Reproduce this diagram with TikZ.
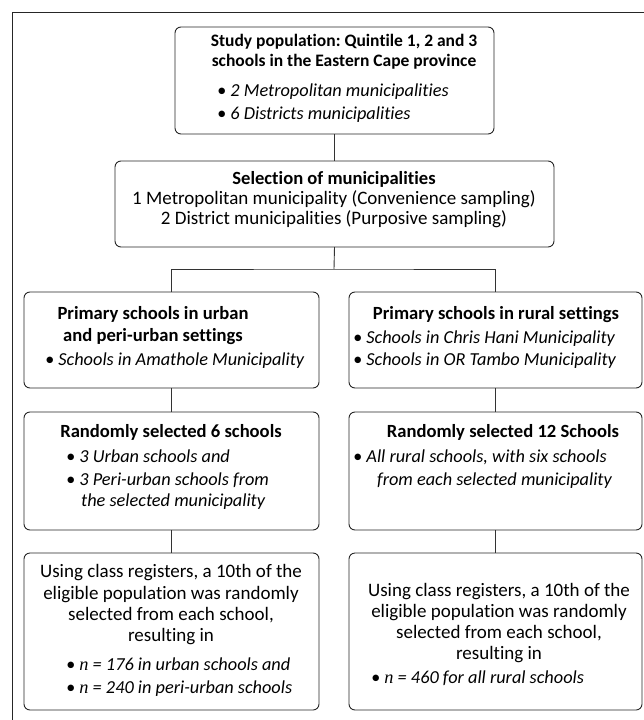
\documentclass[tikz,border=0pt]{standalone}
\usepackage{fontspec}
\setmainfont{Carlito}[Ligatures=NoCommon]
\newfontfamily\tms{Liberation Serif}
\newcommand{\nn}{{\tms\itshape n}}
\frenchspacing
\begin{document}
\begin{tikzpicture}[x=1pt,y=-1pt,
  every node/.append style={font=\fontsize{19}{21}\selectfont},
  box/.style={draw=black!85, line width=0.9pt, rounded corners=6pt, inner sep=0pt, outer sep=0pt, anchor=north west},
  link/.style={draw=black!80, line width=0.9pt},
  frame/.style={draw=black!85, line width=1pt},
  ct/.style={inner sep=0pt, anchor=mid},
  lt/.style={inner sep=0pt, anchor=mid west},
  it/.style={lt, font=\fontsize{18.3}{20}\selectfont\itshape},
  hd/.style={ct, font=\fontsize{18.6}{21}\selectfont\bfseries},
  hdtop/.style={ct, font=\fontsize{17.5}{20}\selectfont\bfseries}]
\useasboundingbox (0,0) rectangle (643,720);
% frame
\coordinate (f1) at (12,722);
\coordinate (f2) at (12,12);
\coordinate (f3) at (645,12);
\draw[frame] (f1) -- (f2) -- (f3);
% boxes
\node[box, minimum width=319pt, minimum height=107pt] (top) at (175,27) {};
\node[box, minimum width=439pt, minimum height=86pt] (sel) at (115,161) {};
\node[box, minimum width=295pt, minimum height=96pt] (urb) at (24,292) {};
\node[box, minimum width=293pt, minimum height=96pt] (rur) at (349,292) {};
\node[box, minimum width=295pt, minimum height=118pt] (urb2) at (24,412) {};
\node[box, minimum width=293pt, minimum height=118pt] (rur2) at (349,412) {};
\node[box, minimum width=295pt, minimum height=157pt] (urb3) at (24,553) {};
\node[box, minimum width=293pt, minimum height=157pt] (rur3) at (349,553) {};
% connectors
\draw[link] (top.south) -- (sel.north);
\coordinate (br) at (334,269);
\draw[link] (sel.south) -- (br);
\draw[link] (urb.north) |- (br) -| (rur.north);
\draw[link] (urb.south) -- (urb2.north);
\draw[link] (rur.south) -- (rur2.north);
\draw[link] (urb2.south) -- (urb3.north);
\draw[link] (rur2.south) -- (rur3.north);
% texts: top
\node[hdtop] (t1) at (344,44) {Study population: Quintile 1, 2 and 3};
\node[hdtop] (t2) at (344,64) {schools in the Eastern Cape province};
\node[it] (t3) at (217,94) {• 2 Metropolitan municipalities};
\node[it] (t4) at (217,117) {• 6 Districts municipalities};
% selection
\node[hd] (s1) at (334,182) {Selection of municipalities};
\node[ct] (s2) at (334,202) {1 Metropolitan municipality (Convenience sampling)};
\node[ct] (s3) at (334,222) {2 District municipalities (Purposive sampling)};
% row 3
\node[hd] (p1) at (153,317) {Primary schools in urban};
\node[hd] (p2) at (153,339) {and peri-urban settings};
\node[it] (p3) at (45,363) {• Schools in Amathole Municipality};
\node[hd] (q1) at (496,317) {Primary schools in rural settings};
\node[it] (q2) at (353,341) {• Schools in Chris Hani Municipality};
\node[it] (q3) at (353,363) {• Schools in OR Tambo Municipality};
% row 4
\node[hd] (r1) at (171,435) {Randomly selected 6 schools};
\node[it] (r2) at (66,460) {• 3 Urban schools and};
\node[it] (r3) at (66,483) {• 3 Peri-urban schools from};
\node[it] (r4) at (81,504) {the selected municipality};
\node[hd] (u1) at (503,435) {Randomly selected 12 Schools};
\node[it] (u2) at (353,460) {• All rural schools, with six schools};
\node[it] (u3) at (377,483) {from each selected municipality};
% row 5
\node[ct] (v1) at (171,575) {Using class registers, a 10th of the};
\node[ct] (v2) at (171,597) {eligible population was randomly};
\node[ct] (v3) at (171,618) {selected from each school,};
\node[ct] (v4) at (171,639) {resulting in};
\node[it] (v5) at (66,668) {• \nn\ = 176 in urban schools and};
\node[it] (v6) at (66,691) {• \nn\ = 240 in peri-urban schools};
\node[ct] (w1) at (499,594) {Using class registers, a 10th of the};
\node[ct] (w2) at (499,615) {eligible population was randomly};
\node[ct] (w3) at (499,636) {selected from each school,};
\node[ct] (w4) at (499,657) {resulting in};
\node[it] (w5) at (371,681) {• \nn\ = 460 for all rural schools};
\end{tikzpicture}
\end{document}
